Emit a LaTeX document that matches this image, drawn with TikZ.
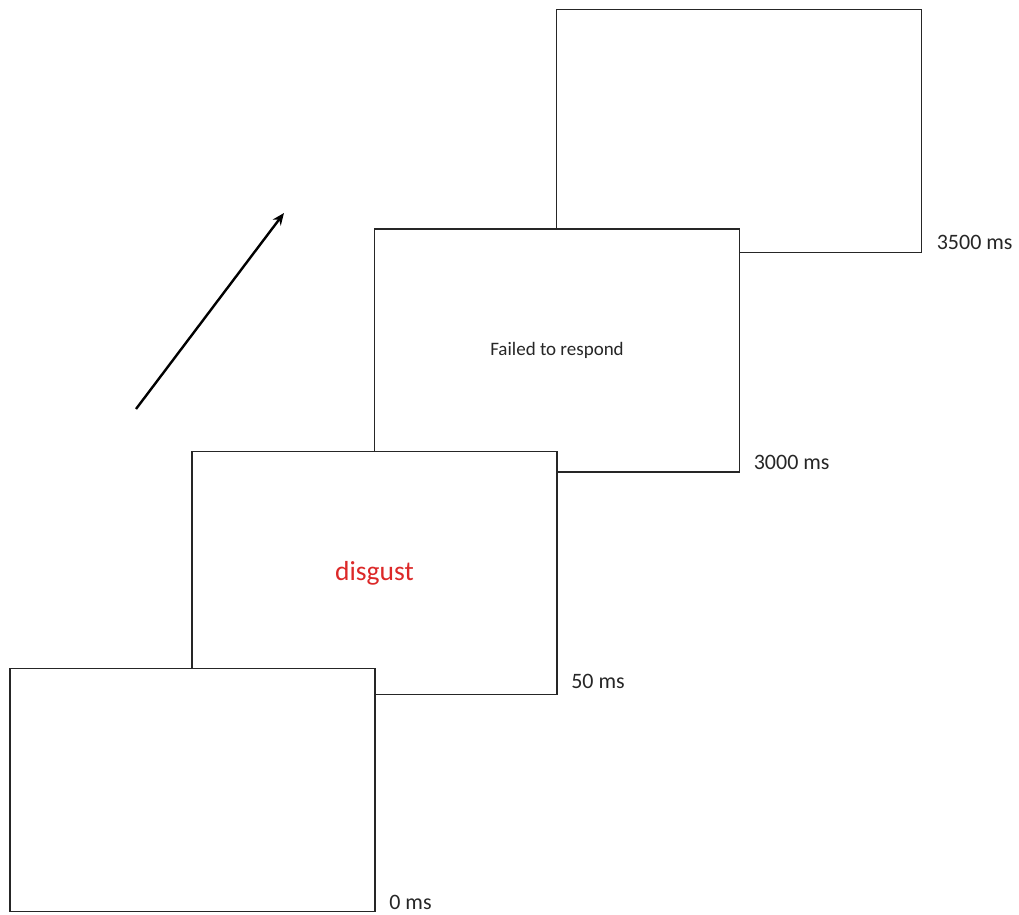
\documentclass[tikz,border=0pt]{standalone}
\usepackage{fontspec}
\setmainfont{Carlito}
\usetikzlibrary{arrows.meta}

\tikzset{every picture/.style={line width=1.3pt}}
\tikzset{
  screen/.style={draw=black!85, fill=white, minimum width=365pt, minimum height=243pt, inner sep=0pt},
  timelbl/.style={anchor=west, inner sep=0pt, font=\fontsize{22}{25}\selectfont, text=black!85}
}

\begin{document}
\begin{tikzpicture}[x=1pt,y=1pt,yscale=-1,xscale=1]
\useasboundingbox (0,0) rectangle (1019,914);

% Screens (back to front)
\node [screen] (b4) at (739,131) {};
\node [screen, font=\fontsize{19}{22}\selectfont, text=black!85] (b3) at (557,350.5) {Failed to respond};
\node [screen, font=\fontsize{27.5}{30}\selectfont, text={rgb,255:red,220;green,40;blue,40}] (b2) at (374.5,573) {disgust};
\node [screen] (b1) at (192.5,790) {};

% Time labels
\node [timelbl] (t1) at ([shift={(13,-10)}]b1.south east) {0 ms};
\node [timelbl] (t2) at ([shift={(13,-14)}]b2.south east) {50 ms};
\node [timelbl] (t3) at ([shift={(13,-10)}]b3.south east) {3000 ms};
\node [timelbl] (t4) at ([shift={(14,-11)}]b4.south east) {3500 ms};

% Time arrow
\coordinate (a0) at (136,409);
\coordinate (a1) at (284,213);
\draw [line width=2.4pt, -{Stealth[length=12pt,width=10pt]}] (a0) -- (a1);

\end{tikzpicture}
\end{document}
